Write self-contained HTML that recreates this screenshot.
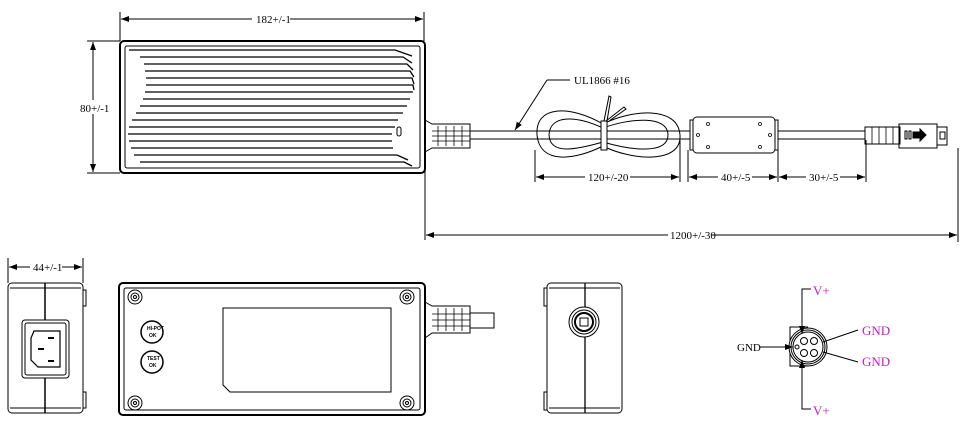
<!DOCTYPE html>
<html><head><style>
html,body{margin:0;padding:0;background:#fff;width:965px;height:431px;overflow:hidden}
svg text{font-family:"Liberation Serif",serif;font-size:11px;fill:#000;stroke:none}
svg text.m{fill:#c020c0;font-size:13px}
svg text.s{font-size:5px;font-family:"Liberation Sans",sans-serif;font-weight:bold}
</style></head><body>
<svg width="965" height="431" viewBox="0 0 965 431" xmlns="http://www.w3.org/2000/svg" fill="none" stroke="#000" stroke-width="1">
<defs><marker id="a" markerWidth="8" markerHeight="6" refX="8" refY="3" orient="auto-start-reverse"><path d="M0,0 L8,3 L0,6z" fill="#000" stroke="none"/></marker></defs>
<!-- top view dims -->
<line x1="120" y1="12" x2="120" y2="41"/><line x1="424" y1="12" x2="424" y2="41"/>
<line x1="121" y1="19" x2="252" y2="19" marker-start="url(#a)"/><line x1="290" y1="19" x2="423" y2="19" marker-end="url(#a)"/>
<text x="256" y="23">182+/-1</text>
<line x1="87" y1="41" x2="120" y2="41"/><line x1="87" y1="173" x2="120" y2="173"/>
<line x1="93" y1="42" x2="93" y2="100" marker-start="url(#a)"/><line x1="93" y1="114" x2="93" y2="172" marker-end="url(#a)"/>
<text x="80" y="112">80+/-1</text>
<!-- top body -->
<rect x="120" y="41" width="305" height="132" rx="4" stroke-width="2"/>
<rect x="125" y="46" width="295" height="122" rx="2"/>
<g stroke-width="1.3">
<path d="M129 50 H395 L412 56"/><path d="M140 57 H403 L412 63"/>
<path d="M144 64 H407 L413 70"/><path d="M145 71 H410 L414 77"/>
<path d="M146 78 H412 L414 84"/><path d="M146 85 H413 L414 90"/>
<path d="M145 92 H413"/><path d="M143 99 H410"/>
<path d="M140 106 H407"/><path d="M136 113 H403"/>
<path d="M132 120 H398"/><path d="M129 127 H395"/>
<path d="M128 134 H392"/><path d="M129 141 H392"/>
<path d="M131 148 H393"/><path d="M134 155 H397 L408 160"/><path d="M140 162 H404 L412 166"/>
</g>
<rect x="397" y="127" width="4" height="9" rx="2"/>
<!-- strain relief -->
<path d="M425 120 L432 124 H470 V148 H432 L425 152"/>
<g stroke-width="0.8"><line x1="438" y1="126" x2="438" y2="146"/><line x1="446" y1="126" x2="446" y2="146"/><line x1="454" y1="126" x2="454" y2="146"/><line x1="462" y1="126" x2="462" y2="146"/><line x1="432" y1="131" x2="470" y2="131"/><line x1="432" y1="136" x2="470" y2="136"/><line x1="432" y1="141" x2="470" y2="141"/></g>
<!-- cable -->
<line x1="470" y1="131" x2="690" y2="131"/><line x1="470" y1="139" x2="690" y2="139"/>
<path d="M603 124 C570 105 535 105 537 135 C540 165 575 160 603 146 C630 160 682 165 680 135 C678 105 630 110 603 124Z"/>
<path d="M603 128 C575 115 550 115 549 135 C550 155 575 150 603 142 C630 150 668 155 668 135 C668 115 630 118 603 128Z"/>
<rect x="601" y="121" width="6" height="29" fill="#fff"/>
<path d="M604 121 L609 96 L611 97 L607 121"/><path d="M606 121 L624 107 L626 109 L609 121"/>
<line x1="547" y1="80" x2="570" y2="80"/><line x1="547" y1="80" x2="515" y2="130" marker-end="url(#a)"/>
<text x="574" y="84">UL1866 #16</text>
<!-- ferrite -->
<rect x="690" y="120" width="8" height="30"/><rect x="770" y="120" width="8" height="30"/>
<rect x="693" y="117" width="82" height="36" rx="4" fill="#fff"/>
<g stroke-width="0.8"><circle cx="708" cy="124" r="1.5"/><circle cx="760" cy="124" r="1.5"/><circle cx="708" cy="147" r="1.5"/><circle cx="760" cy="147" r="1.5"/><circle cx="698" cy="135" r="1.5"/><circle cx="770" cy="135" r="1.5"/></g>
<line x1="778" y1="131" x2="865" y2="131"/><line x1="778" y1="139" x2="865" y2="139"/>
<!-- connector -->
<rect x="865" y="127" width="35" height="17"/>
<g stroke-width="0.8"><line x1="872" y1="127" x2="872" y2="144"/><line x1="879" y1="127" x2="879" y2="144"/><line x1="886" y1="127" x2="886" y2="144"/><line x1="893" y1="127" x2="893" y2="144"/></g>
<rect x="899" y="124" width="38" height="24"/>
<rect x="905" y="131" width="2" height="8"/><rect x="909" y="131" width="2" height="8"/>
<path d="M913 132 H920 V129 L926 135 L920 141 V138 H913Z" fill="#000"/>
<rect x="937" y="127" width="10" height="18"/>
<rect x="940" y="132" width="5" height="7"/>
<!-- cable dims -->
<line x1="535" y1="150" x2="535" y2="182"/><line x1="680" y1="140" x2="680" y2="182"/>
<line x1="688" y1="150" x2="688" y2="182"/><line x1="778" y1="150" x2="778" y2="182"/><line x1="866" y1="140" x2="866" y2="182"/>
<line x1="536" y1="177" x2="585" y2="177" marker-start="url(#a)"/><line x1="630" y1="177" x2="679" y2="177" marker-end="url(#a)"/>
<text x="588" y="181">120+/-20</text>
<line x1="689" y1="177" x2="718" y2="177" marker-start="url(#a)"/><line x1="752" y1="177" x2="777" y2="177" marker-end="url(#a)"/>
<text x="721" y="181">40+/-5</text>
<line x1="779" y1="177" x2="806" y2="177" marker-start="url(#a)"/><line x1="840" y1="177" x2="865" y2="177" marker-end="url(#a)"/>
<text x="809" y="181">30+/-5</text>
<line x1="425" y1="150" x2="425" y2="240"/><line x1="958" y1="148" x2="958" y2="242"/>
<line x1="426" y1="235" x2="668" y2="235" marker-start="url(#a)"/><line x1="712" y1="235" x2="957" y2="235" marker-end="url(#a)"/>
<text x="670" y="239">1200+/-30</text>
<!-- side view -->
<line x1="8" y1="258" x2="8" y2="283"/><line x1="83" y1="258" x2="83" y2="283"/>
<line x1="9" y1="267" x2="30" y2="267" marker-start="url(#a)"/><line x1="62" y1="267" x2="82" y2="267" marker-end="url(#a)"/>
<text x="33" y="271">44+/-1</text>
<rect x="8" y="283" width="75" height="130" rx="4"/>
<line x1="10" y1="288" x2="81" y2="288"/><line x1="10" y1="408" x2="81" y2="408"/>
<rect x="83" y="290" width="3" height="16"/><rect x="83" y="392" width="3" height="16"/>
<line x1="45" y1="283" x2="45" y2="413" stroke-width="1.5"/>
<rect x="22" y="320" width="47" height="58" rx="3" fill="#fff"/>
<rect x="25" y="323" width="41" height="52" rx="2"/>
<path d="M34 331 H60 V367 H38 L31 360 V338Z" stroke-width="1.2"/>
<line x1="48" y1="338" x2="54" y2="338" stroke-width="2"/><line x1="38" y1="349" x2="44" y2="349" stroke-width="2"/><line x1="48" y1="361" x2="54" y2="361" stroke-width="2"/>
<!-- bottom view -->
<rect x="119" y="283" width="306" height="132" rx="4" stroke-width="2"/>
<rect x="124" y="288" width="296" height="122" rx="2"/>
<g><circle cx="135" cy="297" r="7"/><circle cx="135" cy="297" r="4"/><circle cx="135" cy="297" r="1.5"/>
<circle cx="407" cy="297" r="7"/><circle cx="407" cy="297" r="4"/><circle cx="407" cy="297" r="1.5"/>
<circle cx="135" cy="403" r="7"/><circle cx="135" cy="403" r="4"/><circle cx="135" cy="403" r="1.5"/>
<circle cx="407" cy="403" r="7"/><circle cx="407" cy="403" r="4"/><circle cx="407" cy="403" r="1.5"/></g>
<path d="M223 308 H391 V392 H230 L223 385Z"/>
<circle cx="152" cy="332" r="11" stroke-width="1.5"/><circle cx="152" cy="362" r="11" stroke-width="1.5"/>
<text class="s" x="147" y="330">HI-POT</text><text class="s" x="149" y="337">OK</text>
<text class="s" x="147" y="360">TEST</text><text class="s" x="149" y="367">OK</text>
<path d="M425 302 L432 306 H470 V333 H432 L425 338"/>
<g stroke-width="0.8"><line x1="438" y1="308" x2="438" y2="331"/><line x1="446" y1="308" x2="446" y2="331"/><line x1="454" y1="308" x2="454" y2="331"/><line x1="462" y1="308" x2="462" y2="331"/><line x1="432" y1="314" x2="470" y2="314"/><line x1="432" y1="320" x2="470" y2="320"/><line x1="432" y1="326" x2="470" y2="326"/></g>
<path d="M470 313 H494 V328 H470"/>
<!-- end view -->
<rect x="547" y="283" width="75" height="130" rx="4"/>
<line x1="549" y1="288" x2="620" y2="288"/><line x1="549" y1="408" x2="620" y2="408"/>
<rect x="544" y="288" width="3" height="18"/><rect x="544" y="392" width="3" height="18"/>
<line x1="585" y1="283" x2="585" y2="413" stroke-width="1.3"/>
<circle cx="584" cy="322" r="15" fill="#fff"/><circle cx="584" cy="322" r="12"/><circle cx="584" cy="322" r="9" stroke-width="2"/><rect x="580" y="318" width="8" height="8"/>
<!-- pinout -->
<path d="M808 327 H790 V366 H808"/>
<circle cx="808" cy="347" r="19" fill="#fff"/><circle cx="808" cy="347" r="17"/><circle cx="808" cy="347" r="15"/>
<circle cx="804" cy="341" r="3.5"/><circle cx="814" cy="341" r="3.5"/><circle cx="804" cy="353" r="3.5"/><circle cx="814" cy="353" r="3.5"/><circle cx="797" cy="347" r="2"/>
<path d="M811 289 H802 V334" marker-end="url(#a)"/>
<path d="M811 409 H802 V360" marker-end="url(#a)"/>
<line x1="760" y1="347" x2="793" y2="347" marker-end="url(#a)"/>
<line x1="858" y1="330" x2="823" y2="342"/><line x1="858" y1="362" x2="823" y2="352"/>
<text x="737" y="351">GND</text>
<text class="m" x="813" y="295">V+</text><text class="m" x="862" y="335">GND</text><text class="m" x="862" y="366">GND</text><text class="m" x="813" y="415">V+</text>
</svg>
</body></html>
